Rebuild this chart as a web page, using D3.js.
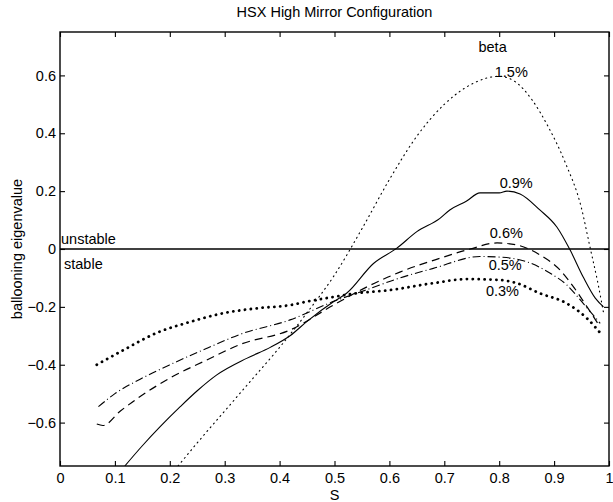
<!DOCTYPE html>
<html>
<head>
<meta charset="utf-8">
<script src="https://cdn.jsdelivr.net/npm/d3@7"></script>
<style>
  html, body { margin: 0; padding: 0; background: #fff; }
  svg text { font-family: "Liberation Sans", Arial, Helvetica, sans-serif; fill: #000; }
</style>
</head>
<body>
<svg id="chart" width="613" height="502"></svg>
<script>
// Ballooning eigenvalue vs. flux-surface label S, one curve per beta.
const xTicks = [0, 0.1, 0.2, 0.3, 0.4, 0.5, 0.6, 0.7, 0.8, 0.9, 1];
const yTicks = [-0.6, -0.4, -0.2, 0, 0.2, 0.4, 0.6];
const betaLabels = ["1.5%", "0.9%", "0.6%", "0.5%", "0.3%"];

const s15 = [0.215, 0.25, 0.3, 0.35, 0.4, 0.45, 0.5, 0.55, 0.6, 0.65, 0.7, 0.75, 0.8, 0.83, 0.86, 0.89, 0.92, 0.95, 0.965, 0.98, 0.99];
const v15 = [-0.75, -0.67, -0.56, -0.45, -0.34, -0.22, -0.09, 0.07, 0.24, 0.39, 0.50, 0.57, 0.597, 0.577, 0.515, 0.42, 0.30, 0.14, 0.01, -0.12, -0.22];

const s09 = [0.118, 0.15, 0.182, 0.219, 0.25, 0.285, 0.34, 0.383, 0.419, 0.45, 0.5, 0.522, 0.571, 0.613, 0.65, 0.692, 0.71, 0.74, 0.765, 0.8, 0.814, 0.838, 0.874, 0.905, 0.929, 0.953, 0.975, 0.99];
const v09 = [-0.75, -0.68, -0.615, -0.545, -0.49, -0.436, -0.378, -0.34, -0.30, -0.25, -0.18, -0.153, -0.05, 0.002, 0.06, 0.106, 0.135, 0.165, 0.194, 0.194, 0.20, 0.19, 0.135, 0.076, -0.003, -0.097, -0.17, -0.2];

const s06 = [0.067, 0.078, 0.11, 0.146, 0.206, 0.267, 0.328, 0.419, 0.498, 0.56, 0.619, 0.692, 0.747, 0.796, 0.832, 0.874, 0.911, 0.935, 0.96, 0.984];
const v06 = [-0.605, -0.61, -0.56, -0.51, -0.44, -0.384, -0.33, -0.28, -0.194, -0.13, -0.08, -0.032, 0.0, 0.021, 0.014, -0.02, -0.073, -0.13, -0.2, -0.27];

const s05 = [0.07, 0.1, 0.146, 0.206, 0.268, 0.328, 0.419, 0.5, 0.56, 0.619, 0.68, 0.765, 0.8, 0.85, 0.893, 0.923, 0.953, 0.984];
const v05 = [-0.545, -0.50, -0.45, -0.395, -0.343, -0.295, -0.245, -0.18, -0.14, -0.10, -0.067, -0.026, -0.028, -0.044, -0.084, -0.124, -0.188, -0.257];

const s03 = [0.067, 0.115, 0.176, 0.237, 0.297, 0.358, 0.419, 0.449, 0.5, 0.54, 0.601, 0.68, 0.741, 0.80, 0.832, 0.874, 0.923, 0.96, 0.984];
const v03 = [-0.40, -0.35, -0.29, -0.252, -0.222, -0.205, -0.194, -0.182, -0.165, -0.153, -0.142, -0.118, -0.104, -0.107, -0.118, -0.153, -0.188, -0.24, -0.29];

const svg = d3.select("#chart");
const plotL = 60, plotR = 609, plotT = 32, plotB = 466;
const fs = 14.5;

const x = d3.scaleLinear().domain([0, 1]).range([plotL, plotR]);
const y = d3.scaleLinear().domain([-0.75, 0.75]).range([plotB, plotT]);

svg.append("defs").append("clipPath").attr("id", "plotclip")
  .append("rect").attr("x", plotL).attr("y", plotT)
  .attr("width", plotR - plotL).attr("height", plotB - plotT);

const fmt = d => d === 0 ? "0" : (d === 1 ? "1" : String(d).replace("-", "\u2212"));

// Axes with inward ticks on all four sides
const tick = 5;
const axisStyle = g => {
  g.select(".domain").remove();
  g.selectAll("line").attr("stroke", "#000").attr("stroke-width", 1.1);
  g.selectAll("text").attr("font-size", fs);
};
svg.append("g").attr("transform", `translate(0,${plotB})`)
  .call(d3.axisBottom(x).tickValues(xTicks).tickSize(-tick).tickPadding(7).tickFormat(fmt))
  .call(axisStyle);
svg.append("g").attr("transform", `translate(0,${plotT})`)
  .call(d3.axisTop(x).tickValues(xTicks).tickSize(-tick).tickFormat(""))
  .call(axisStyle);
svg.append("g").attr("transform", `translate(${plotL},0)`)
  .call(d3.axisLeft(y).tickValues(yTicks).tickSize(-tick).tickPadding(4).tickFormat(fmt))
  .call(axisStyle);
svg.append("g").attr("transform", `translate(${plotR},0)`)
  .call(d3.axisRight(y).tickValues(yTicks).tickSize(-tick).tickFormat(""))
  .call(axisStyle);

svg.append("rect").attr("x", plotL).attr("y", plotT)
  .attr("width", plotR - plotL).attr("height", plotB - plotT)
  .attr("fill", "none").attr("stroke", "#000").attr("stroke-width", 1.4);

// Stability boundary
svg.append("line").attr("x1", x(0)).attr("x2", x(1)).attr("y1", y(0)).attr("y2", y(0))
  .attr("stroke", "#000").attr("stroke-width", 1.3);

const line = d3.line().x(d => x(d[0])).y(d => y(d[1])).curve(d3.curveMonotoneX);
const series = [
  { s: s15, v: v15, dash: "1,4", width: 1.1, cap: "round" },
  { s: s09, v: v09, dash: null, width: 1.1, cap: "butt" },
  { s: s06, v: v06, dash: "8,5", width: 1.2, cap: "butt" },
  { s: s05, v: v05, dash: "8,3,1,3", width: 1.1, cap: "butt" },
  { s: s03, v: v03, dash: "0.1,5.8", width: 2.8, cap: "round" }
];
const gLines = svg.append("g").attr("clip-path", "url(#plotclip)");
series.forEach(sr => {
  gLines.append("path")
    .attr("d", line(d3.zip(sr.s, sr.v)))
    .attr("fill", "none").attr("stroke", "#000")
    .attr("stroke-width", sr.width)
    .attr("stroke-linecap", sr.cap)
    .attr("stroke-dasharray", sr.dash);
});

// Curve annotations
const labelPos = [[0.822, 0.593], [0.831, 0.211], [0.813, 0.038], [0.811, -0.073], [0.806, -0.164]];
betaLabels.forEach((t, i) => {
  svg.append("text").attr("x", x(labelPos[i][0])).attr("y", y(labelPos[i][1]))
    .attr("text-anchor", "middle").attr("font-size", fs).text(t);
});
svg.append("text").attr("x", x(0.788)).attr("y", y(0.681)).attr("text-anchor", "middle")
  .attr("font-size", fs).text("beta");
svg.append("text").attr("x", plotL + 1).attr("y", y(0.018)).attr("font-size", fs).text("unstable");
svg.append("text").attr("x", plotL + 4).attr("y", y(-0.068)).attr("font-size", fs).text("stable");

// Titles
svg.append("text").attr("x", (plotL + plotR) / 2).attr("y", 17).attr("text-anchor", "middle")
  .attr("font-size", fs).text("HSX High Mirror Configuration");
svg.append("text").attr("x", (plotL + plotR) / 2).attr("y", 500).attr("text-anchor", "middle")
  .attr("font-size", fs).text("S");
svg.append("text").attr("transform", `translate(22,${(plotT + plotB) / 2}) rotate(-90)`)
  .attr("text-anchor", "middle").attr("font-size", fs).text("ballooning eigenvalue");
</script>
</body>
</html>
